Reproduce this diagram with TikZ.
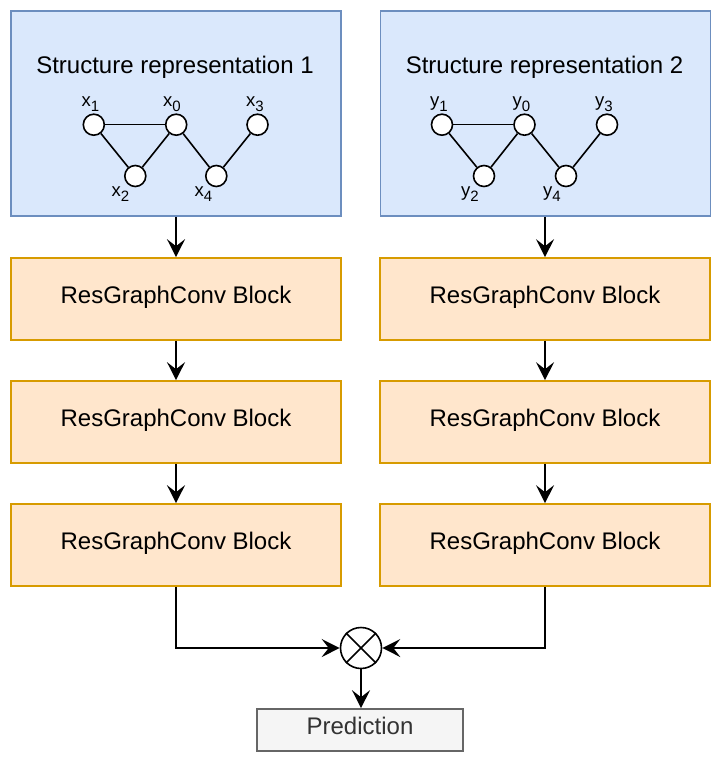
\documentclass[tikz,border=0pt]{standalone}
\usepackage{fontspec}
\setmainfont{Liberation Sans}
\usetikzlibrary{arrows.meta}
\definecolor{bluefill}{HTML}{DAE8FC}
\definecolor{bluestroke}{HTML}{6C8EBF}
\definecolor{orangefill}{HTML}{FFE6CC}
\definecolor{orangestroke}{HTML}{D79B00}
\definecolor{grayfill}{HTML}{F5F5F5}
\definecolor{graystroke}{HTML}{666666}
\definecolor{graytext}{HTML}{333333}
\newcommand{\lbl}[2]{#1\raisebox{-5.5pt}{\fontsize{15}{15}\selectfont #2}}
\begin{document}
\begin{tikzpicture}[x=1pt,y=-1pt,
  bluebox/.style={draw=bluestroke, fill=bluefill, line width=1.6pt, minimum width=330pt, minimum height=205pt, inner sep=0pt},
  orangebox/.style={draw=orangestroke, fill=orangefill, line width=1.6pt, minimum width=330pt, minimum height=82pt, inner sep=0pt, font=\fontsize{24}{24}\selectfont, text height=8.6pt, text depth=0pt},
  predbox/.style={draw=graystroke, fill=grayfill, line width=1.6pt, minimum width=206pt, minimum height=42pt, inner sep=0pt, text=graytext, font=\fontsize{24}{24}\selectfont, text height=8.6pt, text depth=0pt},
  titletext/.style={anchor=base, inner sep=0pt, font=\fontsize{24}{24}\selectfont},
  gnode/.style={circle, draw, fill=white, line width=1.6pt, minimum size=21pt, inner sep=0pt},
  glabel/.style={anchor=base west, inner sep=0pt, font=\fontsize{18.5}{18.5}\selectfont},
  gedge/.style={line width=1.6pt},
  conn/.style={line width=1.8pt, -{Stealth[length=18pt,width=18pt,inset=7pt]}},
  plain/.style={line width=1.8pt}
]
\useasboundingbox (0,0) rectangle (721,762);

% structure boxes
\node[bluebox] (s1) at (176,113.5) {};
\node[bluebox] (s2) at (545.5,113.5) {};
\node[titletext] (t1) at (175,74) {Structure representation 1};
\node[titletext] (t2) at (544.5,74) {Structure representation 2};

% left graph
\node[gnode] (a1) at (93.8,124.7) {};
\node[gnode] (a0) at (176.2,124.7) {};
\node[gnode] (a3) at (257.5,124.7) {};
\node[gnode] (a2) at (135.3,176) {};
\node[gnode] (a4) at (216.3,176) {};
\draw[gedge] (a1) -- (a0);
\draw[gedge] (a1) -- (a2);
\draw[gedge] (a2) -- (a0);
\draw[gedge] (a0) -- (a4);
\draw[gedge] (a4) -- (a3);
\node[glabel] (la1) at (81.5,106.5) {\lbl{x}{1}};
\node[glabel] (la0) at (163,106.5) {\lbl{x}{0}};
\node[glabel] (la3) at (246,106.5) {\lbl{x}{3}};
\node[glabel] (la2) at (111.5,196.5) {\lbl{x}{2}};
\node[glabel] (la4) at (194.5,196.5) {\lbl{x}{4}};

% right graph
\node[gnode] (b1) at (442,124.7) {};
\node[gnode] (b0) at (524.5,124.7) {};
\node[gnode] (b3) at (607,124.7) {};
\node[gnode] (b2) at (484,176) {};
\node[gnode] (b4) at (566,176) {};
\draw[gedge] (b1) -- (b0);
\draw[gedge] (b1) -- (b2);
\draw[gedge] (b2) -- (b0);
\draw[gedge] (b0) -- (b4);
\draw[gedge] (b4) -- (b3);
\node[glabel] (lb1) at (430,106.5) {\lbl{y}{1}};
\node[glabel] (lb0) at (512.5,106.5) {\lbl{y}{0}};
\node[glabel] (lb3) at (595,106.5) {\lbl{y}{3}};
\node[glabel] (lb2) at (461,196.5) {\lbl{y}{2}};
\node[glabel] (lb4) at (543,196.5) {\lbl{y}{4}};

% blocks
\node[orangebox] (l1) at (176,299) {ResGraphConv Block};
\node[orangebox] (l2) at (176,422) {ResGraphConv Block};
\node[orangebox] (l3) at (176,545) {ResGraphConv Block};
\node[orangebox] (r1) at (545,299) {ResGraphConv Block};
\node[orangebox] (r2) at (545,422) {ResGraphConv Block};
\node[orangebox] (r3) at (545,545) {ResGraphConv Block};

\draw[conn] (s1.south -| l1) -- (l1);
\draw[conn] (l1) -- (l2);
\draw[conn] (l2) -- (l3);
\draw[conn] (s2.south -| r1) -- (r1);
\draw[conn] (r1) -- (r2);
\draw[conn] (r2) -- (r3);

% combine
\node[circle, draw, line width=1.6pt, minimum size=41pt, inner sep=0pt, fill=white] (m) at (361,648) {};
\draw[line width=1.6pt] (m.north west) -- (m.south east);
\draw[line width=1.6pt] (m.north east) -- (m.south west);

\draw[conn] (l3.south) |- (m.west);
\draw[conn] (r3.south) |- (m.east);

\node[predbox] (p) at (360,730) {Prediction};
\draw[conn] (m.south) -- (m.south |- p.north);
\end{tikzpicture}
\end{document}
